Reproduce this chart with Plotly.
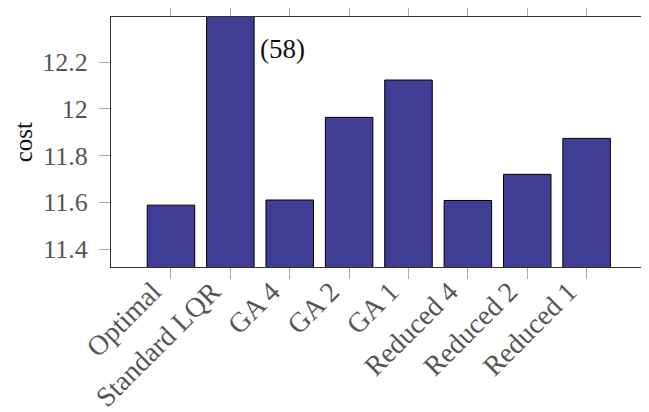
import plotly.graph_objects as go

categories = ["Optimal", "Standard LQR", "GA 4", "GA 2", "GA 1", "Reduced 4", "Reduced 2", "Reduced 1"]
costs = [11.588, 58, 11.61, 11.964, 12.124, 11.608, 11.72, 11.874]
y_ticks = [11.4, 11.6, 11.8, 12, 12.2]
y_tick_labels = ["11.4", "11.6", "11.8", "12", "12.2"]
clipped_label = "(58)"
y_title = "cost"

FONT = "Liberation Serif, Times New Roman, serif"
x_idx = list(range(len(categories)))

fig = go.Figure(go.Bar(
    x=x_idx, y=costs, width=0.8,
    marker=dict(color="rgb(64,61,149)", line=dict(color="black", width=1)),
))

fig.add_annotation(x=1.4, y=12.255, text=clipped_label, showarrow=False,
                   xanchor="left", yanchor="middle", xshift=4,
                   font=dict(family=FONT, size=27, color="#111"))

fig.add_annotation(xref="paper", yref="paper", x=-0.164, y=0.5, text=y_title,
                   showarrow=False, textangle=-90, xanchor="center", yanchor="middle",
                   font=dict(family=FONT, size=25, color="#111"))

axis_common = dict(showline=True, linecolor="#333", linewidth=1, mirror="ticks",
                   ticks="outside", ticklen=11, tickcolor="#aaa", tickwidth=1,
                   showgrid=False, zeroline=False, automargin=False)

# page body has an 8px default margin, so the figure is offset by 8px
fig.update_layout(
    width=641, height=404,
    margin=dict(l=103, r=3, t=9, b=145),
    paper_bgcolor="white", plot_bgcolor="white",
    showlegend=False,
    font=dict(family=FONT, size=26, color="#555"),
    xaxis=dict(range=[-1.01, 8.0], tickmode="array", tickvals=x_idx, ticktext=categories,
               tickangle=-45, tickfont=dict(family=FONT, size=28, color="#555"),
               ticklabelshift=-18, ticklabelstandoff=-15, **axis_common),
    yaxis=dict(range=[11.323, 12.394], tickmode="array", tickvals=y_ticks, ticktext=y_tick_labels,
               tickfont=dict(family=FONT, size=26, color="#555"), ticklabelstandoff=6,
               **axis_common),
)

fig.write_html("out.html")
